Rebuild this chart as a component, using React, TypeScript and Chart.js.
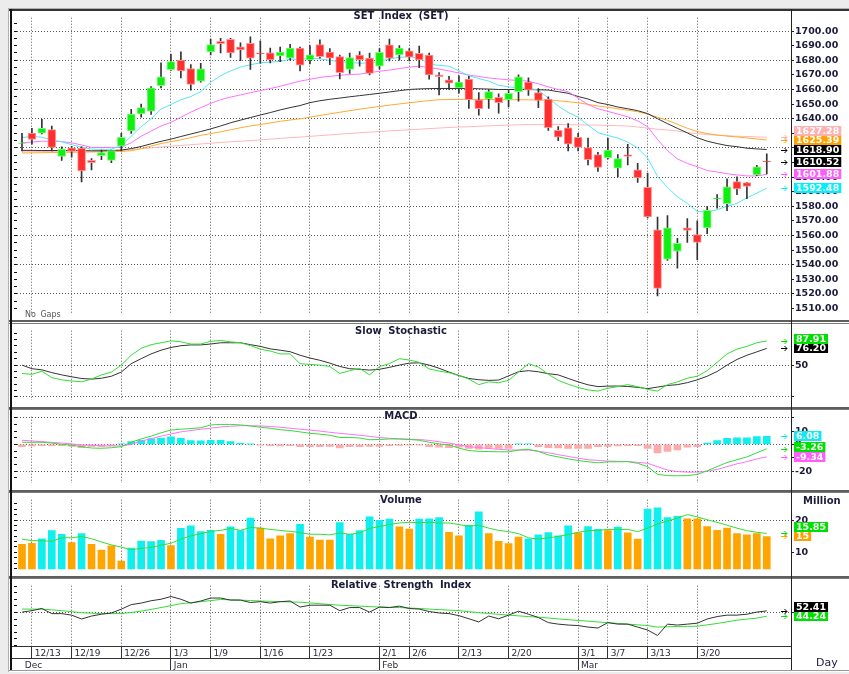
import React, { useEffect, useRef } from 'react';
import { Chart, registerables } from 'chart.js';

Chart.register(...registerables);

// ---------------- DATA ----------------
const DATE_TICKS = [1, 5, 10, 15, 19, 24, 29, 36, 39, 44, 49, 56, 59, 63, 68];
const DATE_LABELS = ['12/13', '12/19', '12/26', '1/3', '1/9', '1/16', '1/23', '2/1', '2/6', '2/13', '2/20', '3/1', '3/7', '3/13', '3/20'];
const MONTH_TICKS = [0, 15, 36, 56];
const MONTH_LABELS = ['Dec', 'Jan', 'Feb', 'Mar'];

const OPEN = [
  1623.0, 1630.1, 1630.1, 1632.5, 1614.2, 1620.0, 1619.9, 1611.5, 1614.6, 1611.5,
  1621.2, 1631.7, 1643.2, 1645.2, 1662.6, 1673.6, 1680.1, 1674.4, 1665.7, 1685.8,
  1693.0, 1694.3, 1689.3, 1691.7, 1685.0, 1685.1, 1683.0, 1681.5, 1688.4, 1680.3,
  1690.8, 1685.6, 1682.5, 1673.8, 1683.6, 1681.5, 1676.0, 1690.6, 1683.6, 1686.4,
  1684.7, 1683.6, 1670.0, 1666.6, 1661.1, 1667.2, 1653.0, 1653.5, 1654.6, 1653.0,
  1658.5, 1665.1, 1657.9, 1653.5, 1632.0, 1633.8, 1627.3, 1620.3, 1615.5, 1613.3,
  1606.1, 1615.3, 1605.0, 1593.0, 1563.9, 1543.8, 1549.3, 1565.2, 1560.6, 1565.2,
  1585.0, 1581.8, 1596.9, 1596.2, 1601.5, 1611.0,
];
const HIGH = [
  1630.0, 1633.4, 1639.5, 1635.0, 1620.7, 1621.0, 1620.7, 1612.6, 1618.5, 1618.5,
  1630.0, 1646.5, 1650.0, 1662.0, 1678.2, 1684.0, 1685.8, 1677.0, 1678.0, 1694.5,
  1695.0, 1695.0, 1692.0, 1696.0, 1693.4, 1688.4, 1689.0, 1691.0, 1689.0, 1690.0,
  1694.0, 1688.0, 1683.6, 1685.0, 1686.0, 1685.0, 1688.0, 1694.5, 1690.0, 1688.0,
  1689.7, 1685.0, 1671.6, 1669.0, 1669.4, 1669.0, 1657.9, 1660.0, 1657.0, 1659.2,
  1670.0, 1668.0, 1660.7, 1655.0, 1634.6, 1636.6, 1630.0, 1626.8, 1617.0, 1626.8,
  1615.5, 1622.5, 1609.4, 1602.8, 1572.7, 1573.7, 1558.0, 1571.6, 1570.0, 1580.0,
  1588.0, 1598.9, 1600.2, 1596.5, 1608.0, 1616.0,
];
const LOW = [
  1618.0, 1622.5, 1629.5, 1618.0, 1611.5, 1613.7, 1596.7, 1605.0, 1612.0, 1609.8,
  1618.0, 1630.0, 1641.0, 1643.0, 1661.1, 1673.0, 1667.9, 1659.6, 1665.0, 1683.6,
  1685.0, 1682.0, 1679.7, 1673.8, 1678.0, 1678.2, 1679.0, 1680.0, 1672.7, 1677.5,
  1681.5, 1677.0, 1667.2, 1671.0, 1676.0, 1670.0, 1674.0, 1679.5, 1680.0, 1679.6,
  1675.0, 1667.0, 1656.3, 1660.0, 1657.4, 1647.0, 1642.5, 1647.0, 1643.8, 1648.0,
  1652.0, 1656.0, 1647.6, 1632.0, 1625.0, 1618.0, 1618.0, 1608.3, 1603.9, 1612.5,
  1600.2, 1608.3, 1596.3, 1572.0, 1518.7, 1543.0, 1537.7, 1555.2, 1543.4, 1561.3,
  1578.8, 1577.0, 1588.0, 1585.3, 1601.0, 1602.2,
];
const CLOSE = [
  1623.4, 1625.8, 1633.4, 1620.3, 1619.2, 1617.6, 1604.3, 1609.8, 1616.8, 1618.1,
  1627.3, 1643.2, 1647.6, 1661.1, 1668.7, 1679.2, 1672.7, 1663.5, 1674.2, 1690.8,
  1691.3, 1685.1, 1687.1, 1681.5, 1684.5, 1680.3, 1685.6, 1688.4, 1676.6, 1683.8,
  1682.5, 1681.5, 1671.6, 1681.9, 1680.3, 1671.0, 1685.4, 1681.5, 1688.4, 1682.1,
  1680.3, 1670.0, 1668.8, 1664.4, 1665.1, 1653.0, 1646.9, 1658.5, 1650.9, 1657.4,
  1668.7, 1659.6, 1652.6, 1633.8, 1627.3, 1622.5, 1620.3, 1612.0, 1606.7, 1618.5,
  1612.6, 1614.2, 1599.5, 1572.7, 1523.7, 1565.2, 1554.7, 1563.5, 1555.2, 1577.3,
  1585.5, 1593.4, 1591.9, 1593.6, 1607.1, 1610.52,
];

const MA_CYAN = [
  1627.0, 1627.9, 1627.3, 1625.5, 1624.2, 1622.2, 1620.5, 1619.2, 1619.0, 1619.2,
  1621.5, 1628.0, 1634.5, 1640.0, 1646.5, 1649.7, 1653.0, 1655.2, 1658.5, 1665.0,
  1669.4, 1672.7, 1675.3, 1677.0, 1678.2, 1678.8, 1679.2, 1680.8, 1680.5, 1681.5,
  1681.0, 1680.0, 1679.0, 1678.5, 1678.0, 1678.2, 1679.2, 1681.0, 1682.0, 1682.5,
  1681.5, 1677.5, 1676.5, 1676.0, 1672.7, 1669.4, 1667.5, 1665.7, 1662.9, 1661.8,
  1661.2, 1660.7, 1659.6, 1654.1, 1648.7, 1644.3, 1641.0, 1635.6, 1630.5, 1628.5,
  1626.8, 1624.0, 1620.0, 1613.0, 1600.5, 1593.0, 1586.5, 1582.0, 1576.5, 1576.0,
  1577.7, 1580.0, 1582.0, 1585.8, 1589.0, 1592.48,
];
const MA_MAGENTA = [
  1623.5, 1624.0, 1624.6, 1624.5, 1624.3, 1623.5, 1622.0, 1620.3, 1620.3, 1620.3,
  1620.5, 1623.5, 1628.0, 1631.5, 1635.0, 1637.5, 1641.0, 1644.5, 1647.6, 1650.5,
  1653.0, 1654.8, 1656.3, 1657.8, 1659.2, 1660.7, 1662.2, 1664.0, 1665.7, 1667.0,
  1668.3, 1669.0, 1669.7, 1670.3, 1670.5, 1671.5, 1672.5, 1673.3, 1674.3, 1675.3,
  1676.0, 1675.0, 1674.0, 1672.7, 1671.3, 1669.9, 1668.9, 1667.9, 1667.2, 1666.6,
  1666.2, 1665.7, 1663.9, 1661.8, 1660.0, 1658.5, 1654.1, 1649.7, 1646.8, 1645.0,
  1643.2, 1641.3, 1638.5, 1634.5, 1625.7, 1618.1, 1612.5, 1609.4, 1607.1, 1604.5,
  1603.5, 1602.3, 1601.5, 1600.8, 1600.8, 1601.88,
];
const MA_BLACK = [
  1618.3, 1618.3, 1618.2, 1618.2, 1618.2, 1618.2, 1618.1, 1618.0, 1618.0, 1618.2,
  1618.5, 1619.5, 1621.0, 1622.8, 1624.5, 1626.0, 1627.8, 1629.5, 1631.2, 1633.0,
  1635.0, 1637.2, 1639.0, 1640.8, 1642.5, 1644.2, 1646.0, 1647.6, 1649.0, 1651.0,
  1652.3, 1653.3, 1654.1, 1655.0, 1655.8, 1656.6, 1657.4, 1658.3, 1659.2, 1660.0,
  1660.4, 1660.6, 1660.7, 1660.7, 1660.7, 1660.7, 1660.5, 1660.3, 1660.0, 1660.0,
  1660.0, 1660.0, 1659.8, 1659.6, 1658.5, 1657.4, 1655.2, 1653.5, 1651.0, 1649.7,
  1648.0, 1646.8, 1645.5, 1643.5, 1640.0, 1636.6, 1633.4, 1630.3, 1627.0, 1624.6,
  1623.0, 1621.6, 1620.8, 1619.8, 1619.3, 1618.90,
];
const MA_ORANGE = [
  1616.5, 1616.6, 1616.7, 1616.8, 1616.9, 1617.0, 1617.1, 1617.2, 1617.3, 1617.4,
  1617.6, 1618.1, 1619.5, 1621.3, 1623.0, 1624.3, 1625.5, 1627.0, 1628.6, 1629.8,
  1631.0, 1632.4, 1633.8, 1635.0, 1636.0, 1637.1, 1638.2, 1639.1, 1639.9, 1641.0,
  1642.2, 1643.3, 1644.4, 1645.5, 1646.5, 1647.5, 1648.4, 1649.3, 1650.1, 1650.9,
  1651.7, 1652.4, 1653.0, 1653.1, 1653.2, 1653.2, 1653.2, 1653.2, 1653.1, 1653.0,
  1653.0, 1652.9, 1652.8, 1652.6, 1652.3, 1651.6, 1650.9, 1649.8, 1648.7, 1647.8,
  1646.8, 1645.8, 1644.8, 1643.2, 1641.0, 1638.9, 1636.2, 1633.4, 1631.2, 1629.8,
  1628.8, 1628.1, 1627.5, 1626.8, 1626.1, 1625.39,
];
const MA_PINK = [
  1617.3, 1617.4, 1617.5, 1617.6, 1617.7, 1617.8, 1617.9, 1618.0, 1618.0, 1618.1,
  1618.2, 1618.8, 1619.5, 1620.0, 1620.6, 1621.2, 1621.7, 1622.2, 1622.7, 1623.2,
  1623.7, 1624.2, 1624.6, 1625.0, 1625.5, 1626.0, 1626.5, 1627.0, 1627.4, 1627.9,
  1628.4, 1628.9, 1629.4, 1629.9, 1630.4, 1630.8, 1631.2, 1631.6, 1632.0, 1632.4,
  1632.8, 1633.2, 1633.6, 1634.0, 1634.3, 1634.5, 1634.8, 1635.1, 1635.4, 1635.6,
  1635.8, 1636.0, 1636.0, 1636.0, 1636.0, 1635.9, 1635.8, 1635.7, 1635.6, 1635.4,
  1635.2, 1635.0, 1634.3, 1633.5, 1632.8, 1632.3, 1631.5, 1630.5, 1629.7, 1629.2,
  1628.7, 1628.3, 1628.0, 1627.8, 1627.5, 1627.28,
];

const STOCH_K = [
  36.8, 35.5, 40.4, 30.3, 26.8, 25.0, 23.7, 28.0, 34.6, 39.0,
  50.0, 65.4, 76.3, 82.0, 85.0, 88.0, 86.4, 83.0, 83.0, 87.2,
  88.6, 86.4, 85.0, 80.6, 75.0, 72.0, 67.5, 67.5, 52.2, 51.0,
  50.0, 47.8, 36.8, 41.2, 44.7, 34.6, 47.8, 52.2, 60.0, 57.9,
  54.3, 44.0, 40.5, 38.0, 34.0, 28.0, 19.3, 23.7, 22.4, 25.9,
  39.0, 52.2, 47.0, 35.5, 26.0, 20.0, 14.9, 11.0, 9.2, 13.6,
  16.2, 19.3, 16.2, 11.8, 9.2, 19.3, 23.7, 29.3, 32.5, 41.2,
  54.3, 67.5, 75.0, 79.3, 85.0, 87.91,
];
const STOCH_D = [
  50.0, 44.3, 42.5, 38.2, 34.6, 31.6, 29.0, 28.0, 29.3, 32.5,
  39.0, 52.2, 60.0, 67.5, 73.3, 77.6, 80.3, 81.6, 81.6, 83.0,
  85.0, 85.0, 85.0, 82.0, 79.3, 75.4, 73.3, 71.0, 65.4, 61.0,
  57.5, 53.0, 47.8, 44.3, 43.4, 42.1, 43.4, 46.4, 50.0, 53.0,
  53.5, 50.0, 45.0, 39.0, 33.5, 29.0, 27.0, 26.0, 26.5, 33.0,
  39.5, 41.2, 39.5, 36.5, 34.6, 29.0, 23.7, 19.0, 16.2, 17.0,
  17.1, 16.5, 15.0, 13.0, 15.5, 18.0, 19.3, 22.4, 26.8, 32.5,
  39.9, 50.0, 58.8, 65.4, 70.7, 76.20,
];

const MACD_LINE = [
  1.6, 1.6, 1.6, 1.0, 0.0, -0.6, -1.7, -2.7, -2.9, -2.5,
  -1.7, 1.6, 4.1, 6.2, 8.7, 10.8, 11.4, 11.9, 12.5, 14.6,
  15.0, 15.0, 14.6, 13.9, 12.9, 12.1, 11.0, 10.4, 9.4, 8.3,
  7.7, 6.9, 5.2, 5.2, 4.8, 3.5, 3.7, 4.1, 4.1, 3.7,
  3.1, 1.6, 0.4, -0.3, -2.8, -4.6, -5.2, -5.4, -5.5, -5.6,
  -4.2, -3.8, -5.2, -7.9, -9.4, -10.8, -12.1, -13.0, -13.8, -13.1,
  -13.0, -12.9, -14.2, -16.7, -22.5, -23.4, -23.6, -23.4, -22.5, -19.8,
  -16.7, -13.6, -11.5, -9.4, -6.3, -3.26,
];
const MACD_SIGNAL = [
  3.1, 2.6, 2.1, 1.5, 1.0, 0.3, -0.4, -0.8, -1.1, -1.1,
  -1.1, 0.0, 2.5, 4.3, 6.2, 7.8, 9.4, 10.4, 11.4, 12.2,
  13.1, 13.6, 14.1, 14.0, 13.9, 13.4, 12.9, 12.1, 11.4, 10.7,
  10.0, 9.1, 8.3, 7.6, 6.9, 6.0, 5.2, 4.6, 4.1, 3.9,
  3.7, 3.0, 2.0, 1.0, -0.4, -1.7, -2.4, -3.1, -3.7, -4.2,
  -4.2, -4.2, -5.2, -6.3, -7.7, -9.0, -10.3, -11.5, -12.0, -12.5,
  -12.7, -12.9, -13.5, -14.2, -16.7, -19.2, -20.4, -20.8, -20.8, -20.2,
  -18.8, -16.7, -14.6, -12.9, -10.9, -9.34,
];
const MACD_HIST = [
  -1.7, -1.2, -1.0, -1.0, -1.0, -1.5, -2.5, -1.5, -1.5, -1.2,
  0.4, 2.1, 3.1, 4.1, 4.8, 5.6, 4.6, 2.9, 2.7, 3.1,
  3.1, 2.1, 0.8, 0.2, -0.5, -1.0, -1.2, -1.0, -1.7, -1.7,
  -1.7, -1.5, -2.7, -1.7, -1.7, -1.5, -1.5, -1.0, -0.8, -0.5,
  -0.5, -1.7, -2.1, -2.5, -2.1, -3.1, -3.5, -3.1, -3.1, -3.1,
  0.3, 0.3, -1.7, -2.5, -2.7, -3.1, -3.1, -3.1, -1.7, -1.5,
  -1.2, -1.0, -1.0, -3.1, -6.3, -5.2, -4.2, -2.1, -1.7, 1.0,
  2.9, 4.6, 5.0, 5.0, 5.8, 6.08,
];

const VOLUME = [
  12.5, 12.8, 14.2, 16.7, 15.6, 13.0, 15.8, 12.5, 10.7, 12.0,
  7.3, 11.3, 13.5, 13.3, 13.7, 12.1, 17.4, 18.2, 16.4, 16.8,
  15.6, 17.9, 16.7, 20.6, 17.5, 14.2, 15.1, 15.8, 18.7, 14.7,
  13.8, 13.8, 19.2, 15.6, 16.7, 21.0, 19.9, 20.3, 17.9, 17.2,
  20.3, 20.4, 20.8, 16.2, 15.1, 18.4, 22.6, 15.8, 13.4, 12.7,
  14.7, 14.2, 15.4, 16.1, 15.1, 18.2, 16.0, 18.0, 17.1, 16.7,
  17.8, 16.0, 14.1, 23.4, 23.8, 20.8, 21.2, 20.4, 20.4, 18.0,
  16.8, 17.5, 15.8, 15.4, 15.8, 14.9,
];
// c = cyan bar, o = orange bar (as coloured in the picture)
const VOLUME_COLOR = 'oocccocooo' + 'occccocccc' + 'occcooooco' + 'ooccccccoo' + 'cccooccooo' + 'occcccocco' + 'cooccccooo' + 'oooooo';
const VOLUME_MA = [
  14.1, 13.6, 13.6, 13.4, 14.5, 14.5, 14.9, 14.2, 13.2, 12.3,
  11.6, 10.8, 11.2, 11.5, 12.2, 12.8, 14.1, 15.1, 15.8, 16.5,
  16.8, 17.4, 16.8, 17.7, 17.5, 17.1, 16.8, 16.5, 16.1, 15.6,
  15.6, 15.4, 16.0, 15.6, 16.0, 17.4, 18.0, 18.6, 19.1, 19.3,
  19.2, 19.3, 19.1, 19.1, 18.6, 18.1, 18.4, 17.5, 16.8, 16.4,
  15.8, 14.5, 14.1, 14.5, 14.9, 15.5, 16.2, 16.7, 16.8, 17.1,
  17.1, 17.1, 16.4, 17.5, 18.8, 19.7, 20.6, 21.7, 21.0, 20.1,
  19.3, 18.4, 17.5, 16.7, 16.2, 15.85,
];

const RSI = [
  50.5, 52.7, 56.0, 48.2, 48.2, 45.9, 40.0, 44.5, 47.3, 49.2,
  55.0, 61.9, 64.2, 67.8, 70.1, 74.2, 70.1, 64.2, 67.4, 71.9,
  71.9, 68.8, 68.8, 65.1, 66.4, 64.2, 66.4, 67.4, 58.2, 61.0,
  61.0, 61.0, 52.7, 57.4, 57.4, 50.5, 58.2, 57.4, 59.6, 56.0,
  55.1, 51.4, 49.2, 48.2, 45.1, 40.4, 35.5, 44.5, 40.4, 45.9,
  51.9, 47.3, 42.3, 34.5, 32.2, 30.8, 30.0, 27.7, 26.3, 34.5,
  32.2, 32.2, 27.7, 23.2, 14.9, 32.2, 30.8, 32.2, 33.6, 40.0,
  43.7, 45.9, 45.9, 47.3, 50.5, 52.41,
];
const RSI_MA = [
  55.1, 55.1, 55.1, 53.9, 52.7, 51.2, 49.6, 48.9, 48.2, 48.2,
  48.2, 50.0, 51.9, 54.6, 57.4, 60.3, 63.3, 64.8, 66.4, 68.0,
  69.7, 69.2, 68.8, 68.1, 67.4, 66.9, 66.4, 66.0, 65.6, 64.4,
  63.3, 62.1, 61.0, 60.3, 59.6, 58.9, 58.2, 57.8, 57.4, 56.7,
  56.0, 55.1, 54.3, 53.5, 52.7, 51.1, 49.6, 48.4, 47.1, 45.9,
  44.8, 43.7, 42.7, 41.5, 40.2, 39.0, 37.8, 36.7, 35.5, 34.4,
  33.3, 32.2, 31.1, 30.0, 27.7, 28.2, 28.6, 28.8, 29.0, 31.1,
  33.2, 35.7, 38.2, 39.8, 41.4, 44.24,
];

// ---------------- LAYOUT / STYLE ----------------
const W = 849;
const LEFT_W = 17;
const RIGHT_W = 58;
const X_MIN = -0.5035;
const X_MAX = 77.44;
const FONT = '"DejaVu Sans", Verdana, sans-serif';
const INK = '#1b1b3a';
const GRID = '#5a5a5a';
const C_RED = '#ff2f2f';
const C_GREEN = '#11ee11';
const C_CYAN = '#11eeee';
const C_ORANGE = '#ffa500';

const PANEL = {
  price: { top: 11, h: 309 },
  stoch: { top: 324, h: 83 },
  macd: { top: 410, h: 80 },
  vol: { top: 493, h: 83 },
  rsi: { top: 579, h: 91 },
};

type Tag = { value: number; text: string; bg: string };

function tagPlugin(items: Tag[]) {
  return {
    id: 'valueTags',
    afterDraw(chart: any) {
      const { ctx, chartArea } = chart;
      const ys = chart.scales.y;
      const H = 9.4;
      const list = items.map((t) => {
        const py = ys.getPixelForValue(t.value);
        return { ...t, py, ly: py };
      });
      list.sort((a, b) => b.py - a.py);
      for (let k = 1; k < list.length; k++) {
        if (list[k].ly > list[k - 1].ly - H) list[k].ly = list[k - 1].ly - H;
      }
      ctx.save();
      ctx.font = `bold 9.5px ${FONT}`;
      ctx.textBaseline = 'middle';
      ctx.textAlign = 'left';
      for (const t of list) {
        const ax = chartArea.right - 10;
        const ay = Math.round(t.py) + 0.5;
        ctx.strokeStyle = t.bg;
        ctx.lineWidth = 1;
        ctx.beginPath();
        ctx.moveTo(ax, ay);
        ctx.lineTo(ax + 6, ay);
        ctx.moveTo(ax + 3.5, ay - 2.5);
        ctx.lineTo(ax + 6, ay);
        ctx.lineTo(ax + 3.5, ay + 2.5);
        ctx.stroke();
        const w = ctx.measureText(t.text).width;
        const bx = chartArea.right + 3;
        const by = Math.round(t.ly - 5);
        ctx.fillStyle = t.bg;
        ctx.fillRect(bx, by, w + 4, 10);
        ctx.fillStyle = '#ffffff';
        ctx.fillText(t.text, bx + 2, by + 5.5);
      }
      ctx.restore();
    },
  };
}

function xGrid(): any {
  return {
    type: 'linear',
    position: 'bottom',
    min: X_MIN,
    max: X_MAX,
    offset: false,
    afterBuildTicks: (s: any) => {
      s.ticks = DATE_TICKS.map((v) => ({ value: v }));
    },
    afterFit: (s: any) => {
      s.height = 0;
    },
    ticks: { display: false },
    grid: { color: GRID, lineWidth: 1, drawTicks: false, offset: false },
    border: { display: false, dash: [1, 2] },
  };
}

function yRight(min: number, max: number, tickVals: number[], gridVals: number[], fmt: (v: number) => string): any {
  return {
    type: 'linear',
    position: 'right',
    min,
    max,
    afterBuildTicks: (s: any) => {
      s.ticks = tickVals.map((v) => ({ value: v }));
    },
    afterFit: (s: any) => {
      s.width = RIGHT_W;
    },
    ticks: {
      autoSkip: false,
      padding: 1,
      color: INK,
      font: { family: FONT, size: 9.5, weight: 'bold' },
      callback: (v: any) => fmt(Number(v)),
    },
    grid: {
      color: (c: any) => (c.tick && gridVals.includes(c.tick.value) ? GRID : 'rgba(0,0,0,0)'),
      drawTicks: true,
      tickLength: 3,
      tickColor: '#222',
      tickWidth: 1,
      tickBorderDash: [],
    },
    border: { display: false, dash: [1, 2] },
  };
}

function yLeft(min: number, max: number, step: number): any {
  return {
    type: 'linear',
    position: 'left',
    min,
    max,
    afterBuildTicks: (s: any) => {
      const t: { value: number }[] = [];
      for (let k = Math.ceil(min / step); k * step <= max; k++) t.push({ value: k * step });
      s.ticks = t;
    },
    afterFit: (s: any) => {
      s.width = LEFT_W;
    },
    ticks: { display: false },
    grid: { drawOnChartArea: false, drawTicks: true, tickLength: 3, tickColor: '#111', color: '#111', tickBorderDash: [] },
    border: { display: false },
  };
}

const pts = (arr: number[]) => arr.map((y, i) => ({ x: i, y }));

function line(data: number[], color: string, order = 3): any {
  return {
    type: 'line',
    data: pts(data),
    borderColor: color,
    borderWidth: 1,
    pointRadius: 0,
    fill: false,
    tension: 0,
    order,
    yAxisID: 'y',
    xAxisID: 'x',
  };
}

const baseOptions = (scales: any, tags: Tag[]): any => ({
  type: 'bar',
  options: {
    responsive: false,
    animation: false,
    events: [],
    layout: { padding: 0 },
    plugins: { legend: { display: false }, tooltip: { enabled: false }, title: { display: false } },
    scales,
  },
  plugins: [tagPlugin(tags)],
});

const last = (a: number[]) => a[a.length - 1];

function priceConfig(): any {
  const idx = OPEN.map((_, i) => i);
  const up = idx.map((i) => CLOSE[i] >= OPEN[i]);
  const cfg = baseOptions(
    {
      x: xGrid(),
      y: yRight(1506.72, 1709.17, Array.from({ length: 20 }, (_, k) => 1510 + k * 10), [1520, 1540, 1560, 1580, 1600, 1620, 1640, 1660, 1680, 1700], (v) => v.toFixed(2)),
      yl: yLeft(1506.72, 1709.17, 5),
    },
    [
      { value: last(MA_PINK), text: last(MA_PINK).toFixed(2), bg: '#ffb0b0' },
      { value: last(MA_ORANGE), text: last(MA_ORANGE).toFixed(2), bg: '#ffa000' },
      { value: last(MA_BLACK), text: last(MA_BLACK).toFixed(2), bg: '#000000' },
      { value: last(CLOSE), text: last(CLOSE).toFixed(2), bg: '#000000' },
      { value: last(MA_MAGENTA), text: last(MA_MAGENTA).toFixed(2), bg: '#ff5cff' },
      { value: last(MA_CYAN), text: last(MA_CYAN).toFixed(2), bg: '#00f0ff' },
    ]
  );
  cfg.data = {
    datasets: [
      line(MA_PINK, '#ffb8b8', 7),
      line(MA_ORANGE, '#ffaa30', 6),
      line(MA_BLACK, '#333333', 5),
      line(MA_MAGENTA, '#ff70ff', 4),
      line(MA_CYAN, '#55e6f5', 3),
      {
        type: 'bar',
        data: idx.map((i) => ({ x: i, y: [LOW[i], HIGH[i]] })),
        backgroundColor: '#333333',
        barThickness: 1,
        grouped: false,
        order: 2,
        yAxisID: 'y',
        xAxisID: 'x',
      },
      {
        type: 'bar',
        data: idx.map((i) => ({ x: i, y: [OPEN[i], CLOSE[i]] })),
        backgroundColor: up.map((u) => (u ? C_GREEN : C_RED)),
        borderColor: up.map((u) => (u ? '#7dff7d' : '#ff9a9a')),
        borderWidth: 1,
        borderSkipped: false,
        barThickness: 8,
        grouped: false,
        order: 1,
        yAxisID: 'y',
        xAxisID: 'x',
      },
    ],
  };
  return cfg;
}

function stochConfig(): any {
  const cfg = baseOptions(
    {
      x: xGrid(),
      y: yRight(-5.26, 103.9, [0, 50], [0, 50], (v) => (v === 50 ? '50' : '')),
      yl: yLeft(-5.26, 103.9, 10),
    },
    [
      { value: last(STOCH_K), text: last(STOCH_K).toFixed(2), bg: '#00e000' },
      { value: last(STOCH_D), text: last(STOCH_D).toFixed(2), bg: '#000000' },
    ]
  );
  cfg.data = { datasets: [line(STOCH_D, '#333333', 4), line(STOCH_K, '#33dd33', 3)] };
  return cfg;
}

function macdConfig(): any {
  const cfg = baseOptions(
    {
      x: xGrid(),
      y: yRight(-29.2, 20.8, [20, 10, 0, -10, -20], [20, 0, -20], (v) => (v === 20 ? '' : String(v))),
      yl: yLeft(-29.2, 20.8, 5),
    },
    [
      { value: last(MACD_HIST), text: last(MACD_HIST).toFixed(2), bg: '#11e8f0' },
      { value: last(MACD_LINE), text: last(MACD_LINE).toFixed(2), bg: '#00e000' },
      { value: last(MACD_SIGNAL), text: last(MACD_SIGNAL).toFixed(2), bg: '#ff5cff' },
    ]
  );
  cfg.data = {
    datasets: [
      line(MACD_SIGNAL, '#ff70ff', 3),
      line(MACD_LINE, '#33dd33', 2),
      {
        type: 'bar',
        data: pts(MACD_HIST),
        backgroundColor: MACD_HIST.map((v) => (v >= 0 ? C_CYAN : '#ffaaaa')),
        barThickness: 7,
        grouped: false,
        order: 5,
        yAxisID: 'y',
        xAxisID: 'x',
      },
    ],
  };
  return cfg;
}

function volConfig(): any {
  const cfg = baseOptions(
    {
      x: xGrid(),
      y: yRight(4.71, 26.33, [10, 20], [20], (v) => String(v)),
      yl: yLeft(4.71, 26.33, 5 / 3),
    },
    [
      { value: last(VOLUME_MA), text: last(VOLUME_MA).toFixed(2), bg: '#00e000' },
      { value: last(VOLUME), text: String(Math.round(last(VOLUME))), bg: '#ffa000' },
    ]
  );
  cfg.data = {
    datasets: [
      line(VOLUME_MA, '#33dd33', 2),
      {
        type: 'bar',
        data: pts(VOLUME),
        backgroundColor: VOLUME.map((_, i) => (VOLUME_COLOR[i] === 'c' ? C_CYAN : C_ORANGE)),
        barThickness: 7,
        grouped: false,
        order: 5,
        yAxisID: 'y',
        xAxisID: 'x',
      },
    ],
  };
  return cfg;
}

function rsiConfig(): any {
  const dateFont = { family: FONT, size: 9 };
  const x = xGrid();
  x.afterFit = (s: any) => {
    s.height = 12;
  };
  x.weight = 0;
  x.ticks = {
    display: true,
    autoSkip: false,
    maxRotation: 0,
    minRotation: 0,
    align: 'start',
    padding: -10,
    color: '#2a2a3a',
    font: dateFont,
    callback: (v: any) => ' ' + DATE_LABELS[DATE_TICKS.indexOf(Number(v))],
  };
  x.grid = { color: GRID, lineWidth: 1, drawTicks: true, tickLength: 12, tickColor: '#333', tickWidth: 1, tickBorderDash: [], offset: false };
  const x2: any = {
    type: 'linear',
    position: 'bottom',
    weight: 1,
    min: X_MIN,
    max: X_MAX,
    offset: false,
    afterBuildTicks: (s: any) => {
      s.ticks = MONTH_TICKS.map((v) => ({ value: v }));
    },
    afterFit: (s: any) => {
      s.height = 12;
    },
    ticks: {
      display: true,
      autoSkip: false,
      maxRotation: 0,
      minRotation: 0,
      align: 'start',
      padding: -10,
      color: '#2a2a3a',
      font: dateFont,
      callback: (v: any) => ' ' + MONTH_LABELS[MONTH_TICKS.indexOf(Number(v))],
    },
    grid: {
      drawOnChartArea: false,
      drawTicks: true,
      tickLength: 12,
      tickColor: (c: any) => (c.index === 0 ? 'rgba(0,0,0,0)' : '#333'),
      tickWidth: 1,
      tickBorderDash: [],
      offset: false,
    },
    border: { display: false },
  };
  const cfg = baseOptions(
    {
      x,
      x2,
      y: yRight(-1.1, 90.7, [50], [50], () => ''),
      yl: yLeft(-1.1, 90.7, 10),
    },
    [
      { value: last(RSI), text: last(RSI).toFixed(2), bg: '#000000' },
      { value: last(RSI_MA), text: last(RSI_MA).toFixed(2), bg: '#00e000' },
    ]
  );
  cfg.data = { datasets: [line(RSI_MA, '#33dd33', 3), line(RSI, '#333333', 2)] };
  return cfg;
}

const titleStyle = (cy: number): React.CSSProperties => ({
  position: 'absolute',
  left: 0,
  width: 802,
  top: cy - 6,
  height: 12,
  lineHeight: '12px',
  textAlign: 'center',
  font: `bold 10px ${FONT}`,
  wordSpacing: '3px',
  color: INK,
  pointerEvents: 'none',
});

const hLine = (top: number, left: number, width: number, h: number, color: string): React.CSSProperties => ({
  position: 'absolute',
  top,
  left,
  width,
  height: h,
  background: color,
});

export default function App() {
  const priceRef = useRef<HTMLCanvasElement>(null);
  const stochRef = useRef<HTMLCanvasElement>(null);
  const macdRef = useRef<HTMLCanvasElement>(null);
  const volRef = useRef<HTMLCanvasElement>(null);
  const rsiRef = useRef<HTMLCanvasElement>(null);

  useEffect(() => {
    const charts: Chart[] = [];
    charts.push(new Chart(priceRef.current as HTMLCanvasElement, priceConfig()));
    charts.push(new Chart(stochRef.current as HTMLCanvasElement, stochConfig()));
    charts.push(new Chart(macdRef.current as HTMLCanvasElement, macdConfig()));
    charts.push(new Chart(volRef.current as HTMLCanvasElement, volConfig()));
    charts.push(new Chart(rsiRef.current as HTMLCanvasElement, rsiConfig()));
    return () => charts.forEach((c) => c.destroy());
  }, []);

  const canvasStyle = (top: number, h: number): React.CSSProperties => ({
    position: 'absolute',
    left: 0,
    top,
    width: W,
    height: h,
  });

  const sep = (top: number, h: number) => (
    <div
      style={{
        position: 'absolute',
        top,
        left: 9,
        width: W - 9,
        height: h,
        boxSizing: 'border-box',
        borderTop: '2px solid #5e5e5e',
        borderBottom: '1px solid #7a7a7a',
        background: '#ffffff',
      }}
    />
  );

  return (
    <div style={{ position: 'absolute', left: 0, top: 0, width: W, height: 674, background: '#ececec', overflow: 'hidden' }}>
      <div style={{ position: 'absolute', left: 8, top: 8, width: W - 8, height: 664, background: '#ffffff', borderLeft: '1px solid #b0b0b0', borderTop: '1px solid #b0b0b0', boxSizing: 'border-box' }} />
      <canvas ref={priceRef} width={W} height={PANEL.price.h} style={canvasStyle(PANEL.price.top, PANEL.price.h)} />
      <canvas ref={stochRef} width={W} height={PANEL.stoch.h} style={canvasStyle(PANEL.stoch.top, PANEL.stoch.h)} />
      <canvas ref={macdRef} width={W} height={PANEL.macd.h} style={canvasStyle(PANEL.macd.top, PANEL.macd.h)} />
      <canvas ref={volRef} width={W} height={PANEL.vol.h} style={canvasStyle(PANEL.vol.top, PANEL.vol.h)} />
      <canvas ref={rsiRef} width={W} height={PANEL.rsi.h} style={canvasStyle(PANEL.rsi.top, PANEL.rsi.h)} />

      {/* frame lines */}
      <div style={hLine(9, 9, W - 9, 2, '#333333')} />
      {sep(320, 4)}
      {sep(407, 3)}
      {sep(490, 3)}
      {sep(576, 3)}
      <div style={hLine(646, 11, 781, 1, '#333333')} />
      <div style={hLine(658, 11, 781, 1, '#333333')} />
      <div style={hLine(670, 9, W - 9, 1, '#9a9a9a')} />
      <div style={hLine(9, 10, 2, 661, '#111111')} />
      <div style={hLine(9, 791, 1, 661, '#222222')} />

      {/* titles */}
      <div style={titleStyle(16)}>SET Index (SET)</div>
      <div style={titleStyle(331)}>Slow Stochastic</div>
      <div style={titleStyle(416)}>MACD</div>
      <div style={titleStyle(500)}>Volume</div>
      <div style={titleStyle(585)}>Relative Strength Index</div>
      <div style={{ position: 'absolute', left: 25, top: 310, font: `8px ${FONT}`, color: '#555', wordSpacing: '2px' }}>No Gaps</div>
      <div style={{ position: 'absolute', left: 803, top: 495, font: `bold 10px ${FONT}`, color: INK }}>Million</div>
      <div style={{ position: 'absolute', left: 816, top: 656, font: `11px ${FONT}`, color: INK }}>Day</div>
    </div>
  );
}
